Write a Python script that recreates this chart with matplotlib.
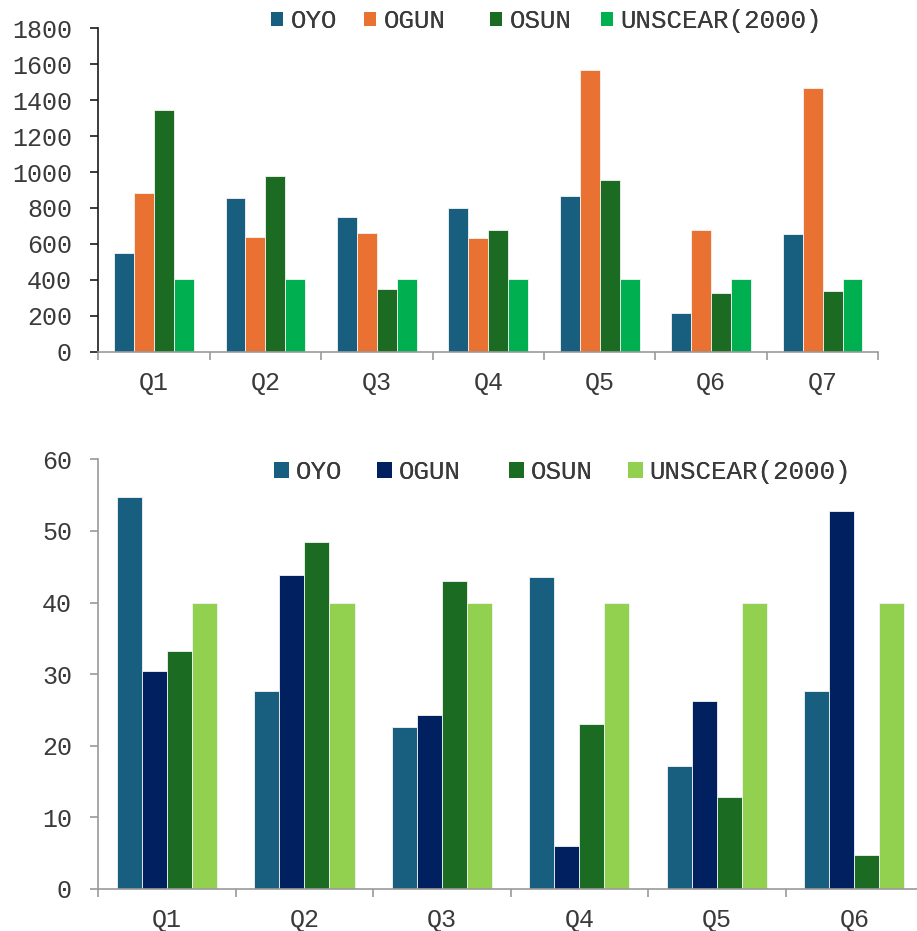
import numpy as np
import matplotlib
matplotlib.use("Agg")
import matplotlib.pyplot as plt
from matplotlib.ticker import FixedLocator, NullFormatter, FixedFormatter
from matplotlib.patches import Patch

plt.rcParams['font.family'] = ['Liberation Mono', 'DejaVu Sans Mono']

series = ["OYO", "OGUN", "OSUN", "UNSCEAR(2000)"]

# Upper panel
top_categories = ["Q1", "Q2", "Q3", "Q4", "Q5", "Q6", "Q7"]
top_oyo = [550, 855, 752, 798, 865, 217, 653]
top_ogun = [885, 640, 662, 631, 1570, 675, 1470]
top_osun = [1347, 978, 351, 675, 954, 328, 340]
top_unscear = [405, 405, 405, 405, 405, 405, 405]
top_colors = ["#175E7F", "#E97132", "#1B6B23", "#00B050"]

# Lower panel
bot_categories = ["Q1", "Q2", "Q3", "Q4", "Q5", "Q6"]
bot_oyo = [54.8, 27.6, 22.6, 43.6, 17.2, 27.6]
bot_ogun = [30.4, 43.9, 24.3, 6.0, 26.2, 52.8]
bot_osun = [33.2, 48.4, 43.0, 23.1, 12.8, 4.8]
bot_unscear = [40, 40, 40, 40, 40, 40]
bot_colors = ["#175E7F", "#002060", "#1B6B23", "#92D050"]

TEXT = "#3a3a3a"
FS = 18
LEG_FS = 18.6
W, H = 917, 931

fig = plt.figure(figsize=(W / 100, H / 100), dpi=100)


def draw_panel(ax, cats, data, colors, ymax, ystep, bar_w, yaxis_color):
    n = len(cats)
    x = np.arange(n)
    k = len(data)
    for i, (vals, col, name) in enumerate(zip(data, colors, series)):
        offs = (i - (k - 1) / 2) * bar_w
        ax.bar(x + offs, vals, width=bar_w, color=col, edgecolor="#f4f4f4",
               linewidth=0.6, label=name, zorder=2)
    ax.set_xlim(-0.5, n - 0.5)
    ax.set_ylim(0, ymax)
    ax.xaxis.set_major_locator(FixedLocator(np.arange(-0.5, n, 1.0)))
    ax.xaxis.set_major_formatter(NullFormatter())
    ax.xaxis.set_minor_locator(FixedLocator(x))
    ax.xaxis.set_minor_formatter(FixedFormatter(cats))
    ax.tick_params(axis="x", which="major", length=6, width=1.2, color="#9a9a9a", direction="out")
    ax.tick_params(axis="x", which="minor", length=0, pad=14, labelsize=FS, labelcolor=TEXT)
    ax.set_yticks(np.arange(0, ymax + 1e-9, ystep))
    ax.tick_params(axis="y", length=6, width=1.2, color=yaxis_color, direction="out",
                   labelsize=FS, labelcolor=TEXT, pad=13)
    for s in ("top", "right"):
        ax.spines[s].set_visible(False)
    ax.spines["left"].set_color(yaxis_color)
    ax.spines["left"].set_linewidth(1.2)
    ax.spines["bottom"].set_color("#9a9a9a")
    ax.spines["bottom"].set_linewidth(1.2)
    ax.set_facecolor("white")


def legend_row(colors, xs_px, y_px, box):
    # one legend entry per series, each placed at its own x position (pixels)
    for name, col, xp in zip(series, colors, xs_px):
        lg = fig.legend(handles=[Patch(facecolor=col, edgecolor="none")], labels=[name],
                        loc="center left", bbox_to_anchor=(xp / W, 1 - y_px / H),
                        frameon=False, fontsize=LEG_FS, handlelength=box, handleheight=box,
                        handletextpad=0.27, borderpad=0, borderaxespad=0, labelcolor=TEXT)
        fig.add_artist(lg)


ax1 = fig.add_axes([98.3 / W, 1 - 351.7 / H, (878.3 - 98.3) / W, (351.7 - 28.3) / H])
draw_panel(ax1, top_categories, [top_oyo, top_ogun, top_osun, top_unscear],
           top_colors, 1800, 200, 0.179, "#1a1a1a")
legend_row(top_colors, [271, 364, 490, 600.7], 21, 0.48)

ax2 = fig.add_axes([98.3 / W, 1 - 889 / H, (923 - 98.3) / W, (889 - 459.3) / H])
draw_panel(ax2, bot_categories, [bot_oyo, bot_ogun, bot_osun, bot_unscear],
           bot_colors, 60, 10, 0.182, "#9a9a9a")
legend_row(bot_colors, [274, 376.7, 509, 627.7], 472, 0.58)

fig.savefig("out.png", dpi=100, facecolor="white")
